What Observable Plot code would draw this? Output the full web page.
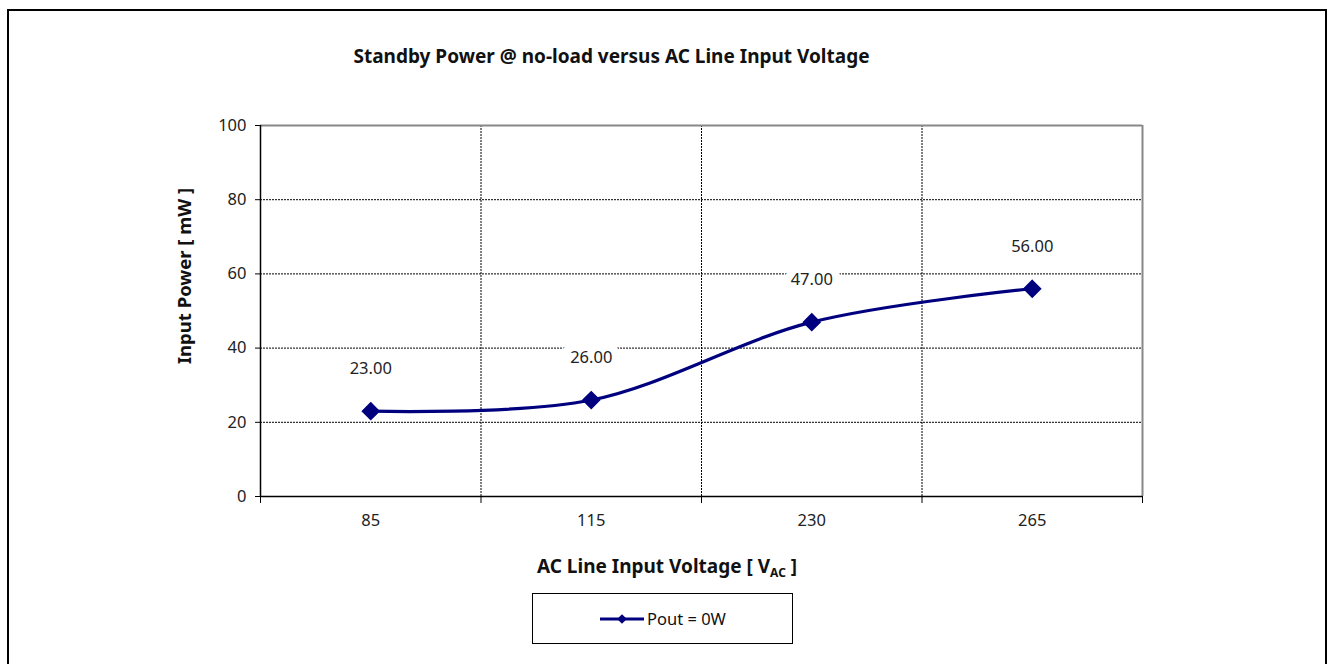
<!DOCTYPE html>
<html>
<head>
<meta charset="utf-8">
<script src="https://cdn.jsdelivr.net/npm/d3@7"></script>
<script src="https://cdn.jsdelivr.net/npm/@observablehq/plot@0.6"></script>
<style>
  html, body { margin: 0; padding: 0; background: #fff; overflow: hidden; }
  #wrap { position: relative; width: 1332px; height: 664px; font-family: "Noto Sans", sans-serif; color: #111; }
  #frame { position: absolute; left: 7px; top: 9px; width: 1320px; height: 700px; border: 2px solid #000; box-sizing: border-box; pointer-events: none; }
  #title { position: absolute; left: 0; width: 1223px; top: 43px; text-align: center; font-weight: bold; font-size: 19px; }
  #ylab { position: absolute; left: 183px; top: 276px; transform: translate(-50%, -50%) rotate(-90deg); white-space: nowrap; font-weight: bold; font-size: 18.5px; }
  #xlab { position: absolute; left: 0; width: 1334px; top: 553px; text-align: center; font-weight: bold; font-size: 19px; }
  #xlab sub { font-size: 12px; vertical-align: -4px; }
  #legend { position: absolute; left: 532px; top: 593px; width: 261px; height: 51px; border: 1px solid #000; box-sizing: border-box; display: flex; align-items: center; justify-content: center; font-size: 16.5px; background: #fff; }
  #legend svg { margin-right: 2px; }
  #chart { position: absolute; left: 0; top: 0; }
</style>
</head>
<body>
<div id="wrap">
  <div id="chart"></div>
  <div id="frame"></div>
  <div id="title">Standby Power @ no-load versus AC Line Input Voltage</div>
  <div id="ylab">Input Power [ mW ]</div>
  <div id="xlab">AC Line Input Voltage [ V<sub>AC</sub> ]</div>
  <div id="legend"></div>
</div>
<script>
// Data
const categories = ["85", "115", "230", "265"];
const inputPower = [23, 26, 47, 56];
const seriesName = "Pout = 0W";
const yTicks = [0, 20, 40, 60, 80, 100];

const navy = "#00007f";
const data = categories.map((c, i) => ({i, label: c, value: inputPower[i]}));
const boundaries = d3.range(categories.length + 1).map(k => k - 0.5);
const inner = boundaries.slice(1, -1);
const yMin = yTicks[0], yMax = yTicks[yTicks.length - 1];

const chart = Plot.plot({
  width: 1332,
  height: 664,
  marginLeft: 260,
  marginRight: 190,
  marginTop: 125,
  marginBottom: 168,
  style: {fontFamily: "Noto Sans, sans-serif", fontSize: "16px", color: "#222", background: "transparent"},
  x: {type: "linear", domain: [boundaries[0], boundaries[boundaries.length - 1]], axis: null},
  y: {domain: [yMin, yMax], axis: null},
  marks: [
    Plot.ruleY(yTicks.slice(1, -1), {stroke: "#000", strokeWidth: 1, strokeDasharray: "2,1"}),
    Plot.ruleX(inner, {stroke: "#000", strokeWidth: 1, strokeDasharray: "2,1"}),
    Plot.ruleY([yMax], {stroke: "#888", strokeWidth: 2}),
    Plot.ruleX([boundaries[boundaries.length - 1]], {stroke: "#888", strokeWidth: 2}),
    Plot.ruleX([boundaries[0]], {stroke: "#000", strokeWidth: 1.5}),
    Plot.ruleY([yMin], {stroke: "#000", strokeWidth: 1.5}),
    Plot.axisY({ticks: yTicks, tickSize: 5, tickPadding: 9, tickFormat: d => d, label: null, stroke: "#000", fill: "#222", fontSize: 16.5}),
    Plot.axisX({ticks: boundaries, tickSize: 7, tickFormat: () => "", label: null, stroke: "#000"}),
    Plot.axisX({ticks: d3.range(categories.length), tickSize: 0, tickPadding: 18, tickFormat: k => categories[k], label: null, fill: "#222", fontSize: 16.5}),
    Plot.line(data, {x: "i", y: "value", curve: "cardinal", stroke: navy, strokeWidth: 3.2}),
    Plot.dot(data, {x: "i", y: "value", symbol: "diamond2", r: 7.5, fill: navy, stroke: navy}),
    Plot.text(data, {x: "i", y: "value", text: d => d.value.toFixed(2), dy: -42, fill: "#222", stroke: "#fff", strokeWidth: 16, strokeLinejoin: "miter", fontSize: 16.5})
  ]
});
document.getElementById("chart").appendChild(chart);

// Legend swatch
const sw = d3.create("svg").attr("width", 46).attr("height", 14);
sw.append("line").attr("x1", 1).attr("x2", 45).attr("y1", 7).attr("y2", 7).attr("stroke", navy).attr("stroke-width", 3.2);
sw.append("path").attr("d", d3.symbol(d3.symbolDiamond2, 60)()).attr("transform", "translate(23,7)").attr("fill", navy);
const lg = document.getElementById("legend");
lg.appendChild(sw.node());
const sp = document.createElement("span");
sp.textContent = seriesName;
lg.appendChild(sp);
</script>
</body>
</html>
